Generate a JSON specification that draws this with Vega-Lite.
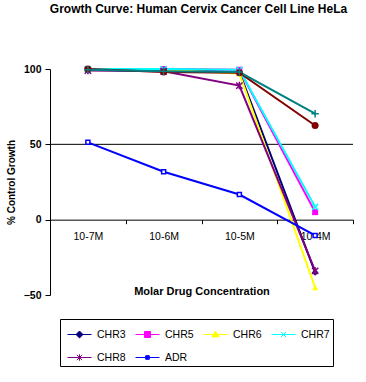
{
  "$schema": "https://vega.github.io/schema/vega-lite/v6.json",
  "width": 303,
  "height": 226,
  "autosize": {"type": "none"},
  "padding": {"left": 50, "top": 69, "right": 13, "bottom": 87},
  "background": "white",
  "title": {
    "text": "Growth Curve: Human Cervix Cancer Cell Line HeLa",
    "font": "Liberation Sans",
    "fontSize": 12,
    "fontWeight": "bold",
    "color": "black",
    "anchor": "middle",
    "frame": "group",
    "offset": 47,
    "dx": -3
  },
  "config": {
    "view": {"stroke": null},
    "font": "Liberation Sans"
  },
  "datasets": {
    "growth": [
      {"series": "CHR3", "conc": "10-7M", "growth": 100},
      {"series": "CHR3", "conc": "10-6M", "growth": 99.5},
      {"series": "CHR3", "conc": "10-5M", "growth": 98},
      {"series": "CHR3", "conc": "10-4M", "growth": -35},
      {"series": "CHR5", "conc": "10-7M", "growth": 100},
      {"series": "CHR5", "conc": "10-6M", "growth": 100},
      {"series": "CHR5", "conc": "10-5M", "growth": 99.5},
      {"series": "CHR5", "conc": "10-4M", "growth": 5},
      {"series": "CHR6", "conc": "10-7M", "growth": 100},
      {"series": "CHR6", "conc": "10-6M", "growth": 99.5},
      {"series": "CHR6", "conc": "10-5M", "growth": 97},
      {"series": "CHR6", "conc": "10-4M", "growth": -45},
      {"series": "CHR7", "conc": "10-7M", "growth": 100},
      {"series": "CHR7", "conc": "10-6M", "growth": 100},
      {"series": "CHR7", "conc": "10-5M", "growth": 99.5},
      {"series": "CHR7", "conc": "10-4M", "growth": 8.5},
      {"series": "CHR8", "conc": "10-7M", "growth": 99},
      {"series": "CHR8", "conc": "10-6M", "growth": 98.5},
      {"series": "CHR8", "conc": "10-5M", "growth": 89},
      {"series": "CHR8", "conc": "10-4M", "growth": -34},
      {"series": "CHR1", "conc": "10-7M", "growth": 100},
      {"series": "CHR1", "conc": "10-6M", "growth": 98},
      {"series": "CHR1", "conc": "10-5M", "growth": 97.5},
      {"series": "CHR1", "conc": "10-4M", "growth": 62.5},
      {"series": "CHR2", "conc": "10-7M", "growth": 99.5},
      {"series": "CHR2", "conc": "10-6M", "growth": 98.5},
      {"series": "CHR2", "conc": "10-5M", "growth": 98},
      {"series": "CHR2", "conc": "10-4M", "growth": 70.3},
      {"series": "ADR", "conc": "10-7M", "growth": 51.3},
      {"series": "ADR", "conc": "10-6M", "growth": 31.8},
      {"series": "ADR", "conc": "10-5M", "growth": 16.7},
      {"series": "ADR", "conc": "10-4M", "growth": -10.5}
    ],
    "grid": [{"g": 50}]
  },
  "encoding": {
    "x": {
      "field": "conc", "type": "ordinal",
      "sort": ["10-7M", "10-6M", "10-5M", "10-4M"],
      "scale": {"type": "band", "paddingInner": 0, "paddingOuter": 0}
    },
    "y": {
      "field": "growth", "type": "quantitative",
      "scale": {"domain": [-50, 100], "nice": false, "zero": false}
    }
  },
  "layer": [
    {
      "data": {"name": "grid"},
      "mark": {"type": "rule", "color": "black", "strokeWidth": 1},
      "encoding": {
        "x": null,
        "y": {"field": "g", "type": "quantitative"}
      }
    },
    {
      "data": {"name": "growth"},
      "mark": {"type": "line", "strokeWidth": 2},
      "encoding": {
        "x": {
          "field": "conc", "type": "ordinal",
          "sort": ["10-7M", "10-6M", "10-5M", "10-4M"],
          "axis": {
            "title": "Molar Drug Concentration",
            "orient": "bottom",
            "offset": -75.33,
            "tickBand": "extent",
            "labelAngle": 0,
            "grid": false,
            "domainColor": "black",
            "domainWidth": 1,
            "tickColor": "black",
            "tickSize": 4,
            "labelFont": "Liberation Sans",
            "labelFontSize": 10.5,
            "labelColor": "black",
            "labelPadding": 8,
            "titleFont": "Liberation Sans",
            "titleFontSize": 11,
            "titleFontWeight": "bold",
            "titleColor": "black",
            "titlePadding": 43
          }
        },
        "y": {
          "field": "growth", "type": "quantitative",
          "axis": {
            "values": [-50, 0, 50, 100],
            "title": "% Control Growth",
            "grid": false,
            "domainColor": "black",
            "tickColor": "black",
            "tickSize": 5,
            "labelFont": "Liberation Sans",
            "labelFontSize": 10.5,
            "labelFontWeight": "bold",
            "labelColor": "black",
            "labelPadding": 4,
            "titleFont": "Liberation Sans",
            "titleFontSize": 10,
            "titleFontWeight": "bold",
            "titleColor": "black",
            "titleX": -39,
            "titleY": 113,
            "titleAngle": -90,
            "titleAlign": "center",
            "titleBaseline": "middle"
          }
        },
        "color": {
          "field": "series", "type": "nominal",
          "scale": {
            "domain": ["CHR3", "CHR5", "CHR6", "CHR7", "CHR8", "ADR", "CHR1", "CHR2"],
            "range": ["#000080", "#FF00FF", "#FFFF00", "#00FFFF", "#800080", "#0000FF", "#800000", "#008080"]
          },
          "legend": {
            "values": ["CHR3", "CHR5", "CHR6", "CHR7", "CHR8", "ADR"],
            "title": null,
            "orient": "none",
            "legendX": 10,
            "legendY": 250,
            "direction": "horizontal",
            "columns": 4,
            "gridAlign": "all",
            "symbolSize": 576,
            "symbolStrokeWidth": 1,
            "symbolOpacity": 1,
            "symbolOffset": 4,
            "strokeColor": "black",
            "padding": 3,
            "labelFont": "Liberation Sans",
            "labelFontSize": 10.5,
            "labelColor": "black",
            "labelOffset": 5,
            "columnPadding": 5,
            "rowPadding": 5
          }
        }
      }
    },
    {
      "data": {"name": "growth"},
      "mark": {"type": "point", "filled": true, "opacity": 0, "size": 4},
      "encoding": {
        "color": {"field": "series", "type": "nominal", "legend": null},
        "shape": {
          "field": "series", "type": "nominal",
          "scale": {
            "domain": ["CHR3", "CHR5", "CHR6", "CHR7", "CHR8", "ADR", "CHR1", "CHR2"],
            "range": [
              "M-1,0L1,0M-0.29,0L0,-0.29L0.29,0L0,0.29Z",
              "M-1,0L1,0M-0.25,-0.25L0.25,-0.25L0.25,0.25L-0.25,0.25Z",
              "M-1,0L1,0M0,-0.29L0.29,0.2L-0.29,0.2Z",
              "M-1,0L1,0M-0.22,-0.22L0.22,0.22M-0.22,0.22L0.22,-0.22",
              "M-1,0L1,0M-0.22,-0.22L0.22,0.22M-0.22,0.22L0.22,-0.22M0,-0.27L0,0.27",
              "M-1,0L1,0M-0.15,-0.15L0.15,-0.15L0.15,0.15L-0.15,0.15Z",
              "M-1,0L1,0M-0.29,0A0.29,0.29,0,1,0,0.29,0A0.29,0.29,0,1,0,-0.29,0Z",
              "M-1,0L1,0M0,-0.27L0,0.27"
            ]
          },
          "legend": {
            "values": ["CHR3", "CHR5", "CHR6", "CHR7", "CHR8", "ADR"],
            "title": null,
            "orient": "none",
            "legendX": 10,
            "legendY": 250,
            "direction": "horizontal",
            "columns": 4,
            "gridAlign": "all",
            "symbolSize": 576,
            "symbolStrokeWidth": 1,
            "symbolOpacity": 1,
            "symbolOffset": 4,
            "strokeColor": "black",
            "padding": 3,
            "labelFont": "Liberation Sans",
            "labelFontSize": 10.5,
            "labelColor": "black",
            "labelOffset": 5,
            "columnPadding": 5,
            "rowPadding": 5
          }
        }
      }
    },
    {
      "data": {"name": "growth"},
      "transform": [{"filter": {"field": "series", "equal": "CHR3"}}],
      "mark": {"type": "point", "filled": true, "opacity": 1, "size": 45, "shape": "diamond", "strokeWidth": 0},
      "encoding": {"color": {"field": "series", "type": "nominal", "legend": null}}
    },
    {
      "data": {"name": "growth"},
      "transform": [{"filter": {"field": "series", "equal": "CHR5"}}],
      "mark": {"type": "point", "filled": true, "opacity": 1, "size": 36, "shape": "square", "strokeWidth": 0},
      "encoding": {"color": {"field": "series", "type": "nominal", "legend": null}}
    },
    {
      "data": {"name": "growth"},
      "transform": [{"filter": {"field": "series", "equal": "CHR6"}}],
      "mark": {"type": "point", "filled": true, "opacity": 1, "size": 40, "shape": "triangle-up", "strokeWidth": 0},
      "encoding": {"color": {"field": "series", "type": "nominal", "legend": null}}
    },
    {
      "data": {"name": "growth"},
      "transform": [{"filter": {"field": "series", "equal": "CHR7"}}],
      "mark": {"type": "point", "filled": false, "opacity": 1, "size": 36, "shape": "M-1,-1L1,1M-1,1L1,-1", "strokeWidth": 1.5},
      "encoding": {"color": {"field": "series", "type": "nominal", "legend": null}}
    },
    {
      "data": {"name": "growth"},
      "transform": [{"filter": {"field": "series", "equal": "CHR8"}}],
      "mark": {"type": "point", "filled": false, "opacity": 1, "size": 40, "shape": "M-1,-1L1,1M-1,1L1,-1M0,-1.2L0,1.2", "strokeWidth": 1.5},
      "encoding": {"color": {"field": "series", "type": "nominal", "legend": null}}
    },
    {
      "data": {"name": "growth"},
      "transform": [{"filter": {"field": "series", "equal": "CHR1"}}],
      "mark": {"type": "point", "filled": true, "opacity": 1, "size": 49, "shape": "circle", "strokeWidth": 0},
      "encoding": {"color": {"field": "series", "type": "nominal", "legend": null}}
    },
    {
      "data": {"name": "growth"},
      "transform": [{"filter": {"field": "series", "equal": "CHR2"}}],
      "mark": {"type": "point", "filled": false, "opacity": 1, "size": 45, "shape": "M-1.1,0L1.1,0M0,-1.1L0,1.1", "strokeWidth": 1.5},
      "encoding": {"color": {"field": "series", "type": "nominal", "legend": null}}
    },
    {
      "data": {"name": "growth"},
      "transform": [{"filter": {"field": "series", "equal": "ADR"}}],
      "mark": {"type": "point", "filled": false, "fill": "white", "opacity": 1, "size": 16, "shape": "square", "strokeWidth": 1.5},
      "encoding": {"color": {"field": "series", "type": "nominal", "legend": null}}
    }
  ]
}
